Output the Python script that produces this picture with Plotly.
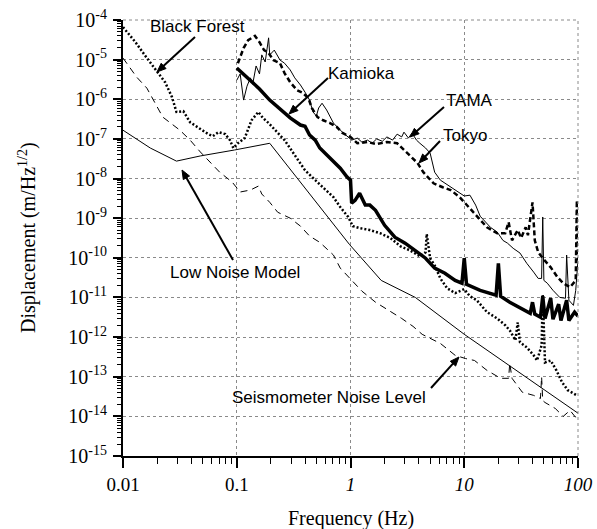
import numpy as np
import plotly.graph_objects as go

# ---------------- data (log10 of frequency in Hz, log10 of displacement in m/Hz^1/2) ----------------
black_forest_log_f = [-2.00, -1.89, -1.79, -1.70, -1.63, -1.57, -1.53, -1.47, -1.41, -1.32, -1.25, -1.21,
                      -1.16, -1.10, -1.06, -1.03, -0.99, -0.93, -0.87, -0.81, -0.77, -0.72, -0.66, -0.58,
                      -0.49, -0.40, -0.31, -0.22, -0.15, -0.09, -0.02, 0.02, 0.08, 0.17, 0.26, 0.35, 0.44,
                      0.52, 0.61, 0.66, 0.67, 0.70, 0.74, 0.79, 0.85, 0.92, 1.00, 1.05, 1.11, 1.20, 1.29,
                      1.36, 1.40, 1.45, 1.47, 1.49, 1.55, 1.61, 1.64, 1.68, 1.69, 1.71, 1.76, 1.81, 1.86,
                      1.91, 1.99]
black_forest_log_d = [-4.18, -4.56, -4.96, -5.31, -5.57, -5.94, -6.32, -6.30, -6.58, -6.75, -6.88, -6.93,
                      -6.83, -6.88, -7.03, -7.23, -7.11, -6.98, -6.53, -6.32, -6.47, -6.60, -6.78, -7.03,
                      -7.41, -7.79, -8.04, -8.29, -8.47, -8.72, -8.97, -9.20, -9.25, -9.30, -9.38, -9.50,
                      -9.71, -9.81, -9.96, -9.86, -9.40, -10.01, -10.19, -10.52, -10.77, -10.89, -10.79,
                      -10.97, -11.07, -11.37, -11.53, -11.70, -11.83, -12.08, -11.63, -12.13, -12.26,
                      -12.46, -12.59, -12.21, -10.94, -12.64, -12.59, -12.84, -13.14, -13.34, -13.47]

kamioka_log_f = [-1.00, -0.88, -0.80, -0.71, -0.62, -0.53, -0.44, -0.40, -0.36, -0.31, -0.27, -0.18,
                 -0.09, -0.03, 0.00, 0.01, 0.04, 0.08, 0.13, 0.17, 0.22, 0.30, 0.39, 0.48, 0.57, 0.66,
                 0.74, 0.83, 0.92, 0.98, 1.00, 1.02, 1.14, 1.23, 1.28, 1.30, 1.32, 1.40, 1.49, 1.58,
                 1.60, 1.62, 1.67, 1.69, 1.71, 1.76, 1.78, 1.83, 1.85, 1.90, 1.92, 1.97, 2.00]
kamioka_log_d = [-5.21, -5.52, -5.74, -6.02, -6.25, -6.47, -6.65, -6.68, -6.90, -7.03, -7.23, -7.48,
                 -7.74, -7.96, -8.04, -8.62, -8.55, -8.37, -8.67, -8.67, -8.80, -9.18, -9.48, -9.63,
                 -9.81, -10.01, -10.26, -10.39, -10.57, -10.64, -10.01, -10.67, -10.82, -10.89, -10.94,
                 -10.14, -10.97, -11.12, -11.25, -11.40, -11.12, -11.42, -11.50, -10.97, -11.53, -11.02,
                 -11.55, -11.17, -11.58, -11.07, -11.58, -11.37, -11.47]

tokyo_log_f = [-0.99, -0.94, -0.90, -0.84, -0.80, -0.76, -0.72, -0.68, -0.62, -0.58, -0.53, -0.47,
               -0.42, -0.37, -0.34, -0.29, -0.24, -0.18, -0.12, -0.07, 0.00, 0.06, 0.15, 0.23, 0.32,
               0.41, 0.50, 0.59, 0.64, 0.73, 0.81, 0.88, 0.96, 1.09, 1.20, 1.29, 1.36, 1.39, 1.42,
               1.47, 1.50, 1.54, 1.56, 1.60, 1.62, 1.65, 1.69, 1.76, 1.82, 1.87, 1.93, 1.98, 1.99, 2.00]
tokyo_log_d = [-5.09, -4.71, -4.51, -4.40, -4.56, -4.76, -4.83, -5.01, -5.09, -5.34, -5.57, -5.77,
               -5.84, -5.97, -6.22, -6.45, -6.53, -6.60, -6.70, -6.85, -6.95, -7.11, -7.08, -7.13,
               -7.08, -7.11, -7.36, -7.61, -7.84, -8.12, -8.22, -8.29, -8.47, -8.87, -9.23, -9.38,
               -9.38, -9.10, -9.56, -9.30, -9.50, -9.23, -9.43, -8.60, -9.56, -9.86, -10.01, -10.24,
               -10.49, -10.64, -10.74, -10.57, -8.55, -10.06]

tama_log_f = [-1.00, -0.97, -0.94, -0.91, -0.88, -0.86, -0.83, -0.80, -0.78, -0.75, -0.72, -0.71,
              -0.67, -0.62, -0.58, -0.53, -0.49, -0.44, -0.40, -0.36, -0.33, -0.30, -0.28, -0.25,
              -0.21, -0.15, -0.09, -0.03, 0.01, 0.06, 0.10, 0.15, 0.19, 0.23, 0.28, 0.32, 0.37, 0.41,
              0.45, 0.47, 0.51, 0.54, 0.58, 0.61, 0.66, 0.70, 0.74, 0.79, 0.88, 0.95, 1.00, 1.05,
              1.10, 1.14, 1.23, 1.29, 1.34, 1.38, 1.43, 1.49, 1.55, 1.61, 1.65, 1.68, 1.69, 1.70,
              1.73, 1.78, 1.84, 1.89, 1.90, 1.92, 1.96, 1.98, 2.00]
tama_log_d = [-5.52, -5.36, -6.02, -5.67, -5.46, -5.62, -5.16, -5.36, -4.88, -5.06, -4.45, -4.88,
              -4.76, -5.01, -5.09, -5.26, -5.46, -5.64, -5.82, -6.02, -6.32, -6.42, -6.22, -6.10,
              -6.27, -6.60, -6.78, -6.93, -7.03, -6.98, -7.08, -7.03, -7.11, -7.00, -7.06, -6.95,
              -7.03, -6.88, -6.95, -6.83, -6.98, -6.85, -7.03, -7.11, -7.23, -7.36, -7.84, -8.04,
              -8.22, -8.34, -8.44, -8.42, -8.67, -8.95, -9.23, -9.35, -9.56, -9.63, -9.76, -9.88,
              -10.14, -10.36, -10.52, -10.52, -8.97, -10.57, -10.64, -10.82, -11.00, -11.02, -9.93,
              -11.07, -11.20, -10.82, -10.05]

seismometer_log_f = [-2.00, -1.88, -1.79, -1.65, -1.50, -1.41, -1.32, -1.23, -1.15, -1.04, -0.97,
                     -0.88, -0.81, -0.78, -0.71, -0.64, -0.53, -0.44, -0.36, -0.27, -0.15, -0.09,
                     0.00, 0.10, 0.22, 0.35, 0.45, 0.55, 0.63, 0.79, 0.92, 1.01, 1.09, 1.20, 1.32,
                     1.39, 1.40, 1.42, 1.51, 1.61, 1.67, 1.68, 1.69, 1.71, 1.80, 1.87, 1.93, 2.00]
seismometer_log_d = [-4.96, -5.44, -5.72, -6.45, -6.78, -7.03, -7.33, -7.61, -7.84, -8.09, -8.34,
                     -8.29, -8.19, -8.39, -8.60, -8.85, -9.00, -9.20, -9.45, -9.61, -9.93, -10.26,
                     -10.54, -10.84, -11.12, -11.35, -11.53, -11.73, -11.93, -12.16, -12.46, -12.54,
                     -12.59, -12.84, -13.04, -13.04, -12.66, -13.04, -13.39, -13.47, -13.55, -13.00,
                     -13.60, -13.65, -13.80, -14.00, -13.85, -14.10]

low_noise_log_f = [-2.00, -1.76, -1.53, -1.32, -1.02, -0.71, -0.01, 0.27, 0.57, 1.00, 2.00]
low_noise_log_d = [-6.78, -7.23, -7.56, -7.43, -7.28, -7.11, -9.66, -10.57, -11.00, -11.93, -13.92]

x_tick_vals = [0.01, 0.1, 1, 10, 100]
x_tick_text = ["0.01", "0.1", "<i>1</i>", "<i>10</i>", "<i>100</i>"]
y_exponents = list(range(-4, -16, -1))
y_tick_vals = [10.0 ** e for e in y_exponents]
y_tick_text = ["10<sup>%d</sup>" % e for e in y_exponents]

x_minor = [k * 10.0 ** e for e in range(-2, 2) for k in range(2, 10)]
y_minor = [k * 10.0 ** e for e in range(-15, -4) for k in range(2, 10)]

SERIF = "Liberation Serif, Times New Roman, serif"
SANS = "Liberation Sans, Arial, sans-serif"

# page geometry in pixels (layout only)
W, H = 597, 529
PL, PR, PT, PB = 123, 578, 20, 456      # plot area
LBL = 107                               # where the y tick-label column sits
X_DOMAIN0 = (PL - LBL) / (PR - LBL)


def to_dom(px, py):
    """page pixel -> fraction of the plot area (x domain / y domain)"""
    return (px - PL) / (PR - PL), (PB - py) / (PB - PT)


def pw(a):
    return 10.0 ** np.asarray(a)


fig = go.Figure()
fig.add_trace(go.Scatter(x=pw(low_noise_log_f), y=pw(low_noise_log_d), mode="lines",
                         line=dict(color="black", width=1), name="Low Noise Model"))
fig.add_trace(go.Scatter(x=pw(seismometer_log_f), y=pw(seismometer_log_d), mode="lines",
                         line=dict(color="black", width=1, dash="7px,5px"), name="Seismometer Noise Level"))
fig.add_trace(go.Scatter(x=pw(tama_log_f), y=pw(tama_log_d), mode="lines",
                         line=dict(color="black", width=1), name="TAMA"))
fig.add_trace(go.Scatter(x=pw(black_forest_log_f), y=pw(black_forest_log_d), mode="lines",
                         line=dict(color="black", width=2.5, dash="2px,2px"), name="Black Forest"))
fig.add_trace(go.Scatter(x=pw(tokyo_log_f), y=pw(tokyo_log_d), mode="lines",
                         line=dict(color="black", width=2.5, dash="5px,3px"), name="Tokyo"))
fig.add_trace(go.Scatter(x=pw(kamioka_log_f), y=pw(kamioka_log_d), mode="lines",
                         line=dict(color="black", width=3.5), name="Kamioka"))

grid_col = "#8a8a8a"
fig.update_layout(
    xaxis=dict(type="log", range=[-2, 2], domain=[X_DOMAIN0, 1], tickmode="array",
               tickvals=x_tick_vals, ticktext=x_tick_text,
               ticks="outside", ticklen=10, tickwidth=1.5, tickcolor="black",
               showline=True, linecolor="black", linewidth=2, automargin=False,
               showgrid=True, gridcolor=grid_col, griddash="dot", gridwidth=1, zeroline=False,
               tickfont=dict(family=SERIF, size=19, color="black"),
               minor=dict(tickmode="array", tickvals=x_minor, ticks="outside", ticklen=6,
                          tickwidth=1.2, tickcolor="black", showgrid=False)),
    yaxis=dict(type="log", range=[-15, -4], tickmode="array", tickvals=y_tick_vals,
               showticklabels=False, automargin=False,
               ticks="outside", ticklen=8, tickwidth=1.5, tickcolor="black",
               showline=True, linecolor="black", linewidth=2,
               showgrid=True, gridcolor=grid_col, griddash="dot", gridwidth=1, zeroline=False,
               minor=dict(tickmode="array", tickvals=y_minor, ticks="outside", ticklen=4,
                          tickwidth=1, tickcolor="black", showgrid=False)),
    # label-only copy of the displacement axis, set a little further left
    yaxis2=dict(type="log", range=[-15, -4], overlaying="y", anchor="free", position=0, side="left",
                tickmode="array", tickvals=y_tick_vals, ticktext=y_tick_text, ticks="",
                showline=False, showgrid=False, zeroline=False, automargin=False,
                tickfont=dict(family=SERIF, size=20, color="black")),
)
# invisible carrier so the label axis is drawn
fig.add_trace(go.Scatter(x=[None], y=[None], yaxis="y2", mode="lines", showlegend=False,
                         hoverinfo="skip"))

# dotted frame on top and right
fig.add_shape(type="line", xref="x domain", yref="y domain", x0=0, x1=1, y0=1, y1=1,
              line=dict(color=grid_col, width=1, dash="dot"))
fig.add_shape(type="line", xref="x domain", yref="y domain", x0=1, x1=1, y0=0, y1=1,
              line=dict(color=grid_col, width=1, dash="dot"))

# label texts (centre, in page pixels)
labels = [
    ("Black Forest", 197, 27),
    ("Kamioka", 361, 73),
    ("TAMA", 469, 100),
    ("Tokyo", 465, 135),
    ("Low Noise Model", 235, 272),
    ("Seismometer Noise Level", 329, 397),
]
for txt, px, py in labels:
    xd, yd = to_dom(px, py)
    fig.add_annotation(text=txt, x=xd, y=yd, xref="x domain", yref="y domain", showarrow=False,
                       xanchor="center", yanchor="middle", font=dict(family=SANS, size=17, color="black"))

# pointer arrows: (tail, head) in page pixels, drawn as a line plus a filled head
arrows = [
    ((195, 37), (157, 72)),
    ((328, 78), (289, 114)),
    ((444, 107), (410, 137)),
    ((440, 141), (419, 163)),
    ((233, 260), (182, 170)),
    ((431, 388), (459, 357)),
]
HEAD_LEN, HEAD_HALF = 9.0, 3.6
for (tx, ty), (hx, hy) in arrows:
    dx, dy = hx - tx, hy - ty
    L = (dx * dx + dy * dy) ** 0.5
    ux, uy = dx / L, dy / L
    bx, by = hx - ux * HEAD_LEN, hy - uy * HEAD_LEN
    nx, ny = -uy, ux
    p_t = to_dom(tx, ty)
    p_b = to_dom(bx + ux * 1.0, by + uy * 1.0)
    fig.add_shape(type="line", xref="x domain", yref="y domain",
                  x0=p_t[0], y0=p_t[1], x1=p_b[0], y1=p_b[1], line=dict(color="black", width=2))
    pts = [to_dom(hx, hy), to_dom(bx + nx * HEAD_HALF, by + ny * HEAD_HALF),
           to_dom(bx - nx * HEAD_HALF, by - ny * HEAD_HALF)]
    # path shapes use paper coordinates; convert domain fractions to paper
    def dpx(v):
        return X_DOMAIN0 + v * (1 - X_DOMAIN0)
    path = "M %.5f %.5f L %.5f %.5f L %.5f %.5f Z" % (dpx(pts[0][0]), pts[0][1], dpx(pts[1][0]), pts[1][1],
                                                     dpx(pts[2][0]), pts[2][1])
    fig.add_shape(type="path", xref="paper", yref="paper", path=path,
                  fillcolor="black", line=dict(color="black", width=1))

fig.add_annotation(text="Displacement (m/Hz<sup>1/2</sup>)", x=to_dom(27, 0)[0], y=0.5,
                   xref="x domain", yref="y domain",
                   showarrow=False, textangle=-90, xanchor="center", yanchor="middle",
                   font=dict(family=SERIF, size=20, color="black"))
fig.add_annotation(text="Frequency (Hz)", x=0.5, y=to_dom(0, 518)[1], xref="x domain", yref="y domain",
                   showarrow=False, xanchor="center", yanchor="middle",
                   font=dict(family=SERIF, size=20, color="black"))

fig.update_layout(width=W, height=H, margin=dict(l=LBL, r=W - PR, t=PT, b=H - PB, autoexpand=False),
                  paper_bgcolor="white", plot_bgcolor="white", showlegend=False)

fig.write_html("out.html")
